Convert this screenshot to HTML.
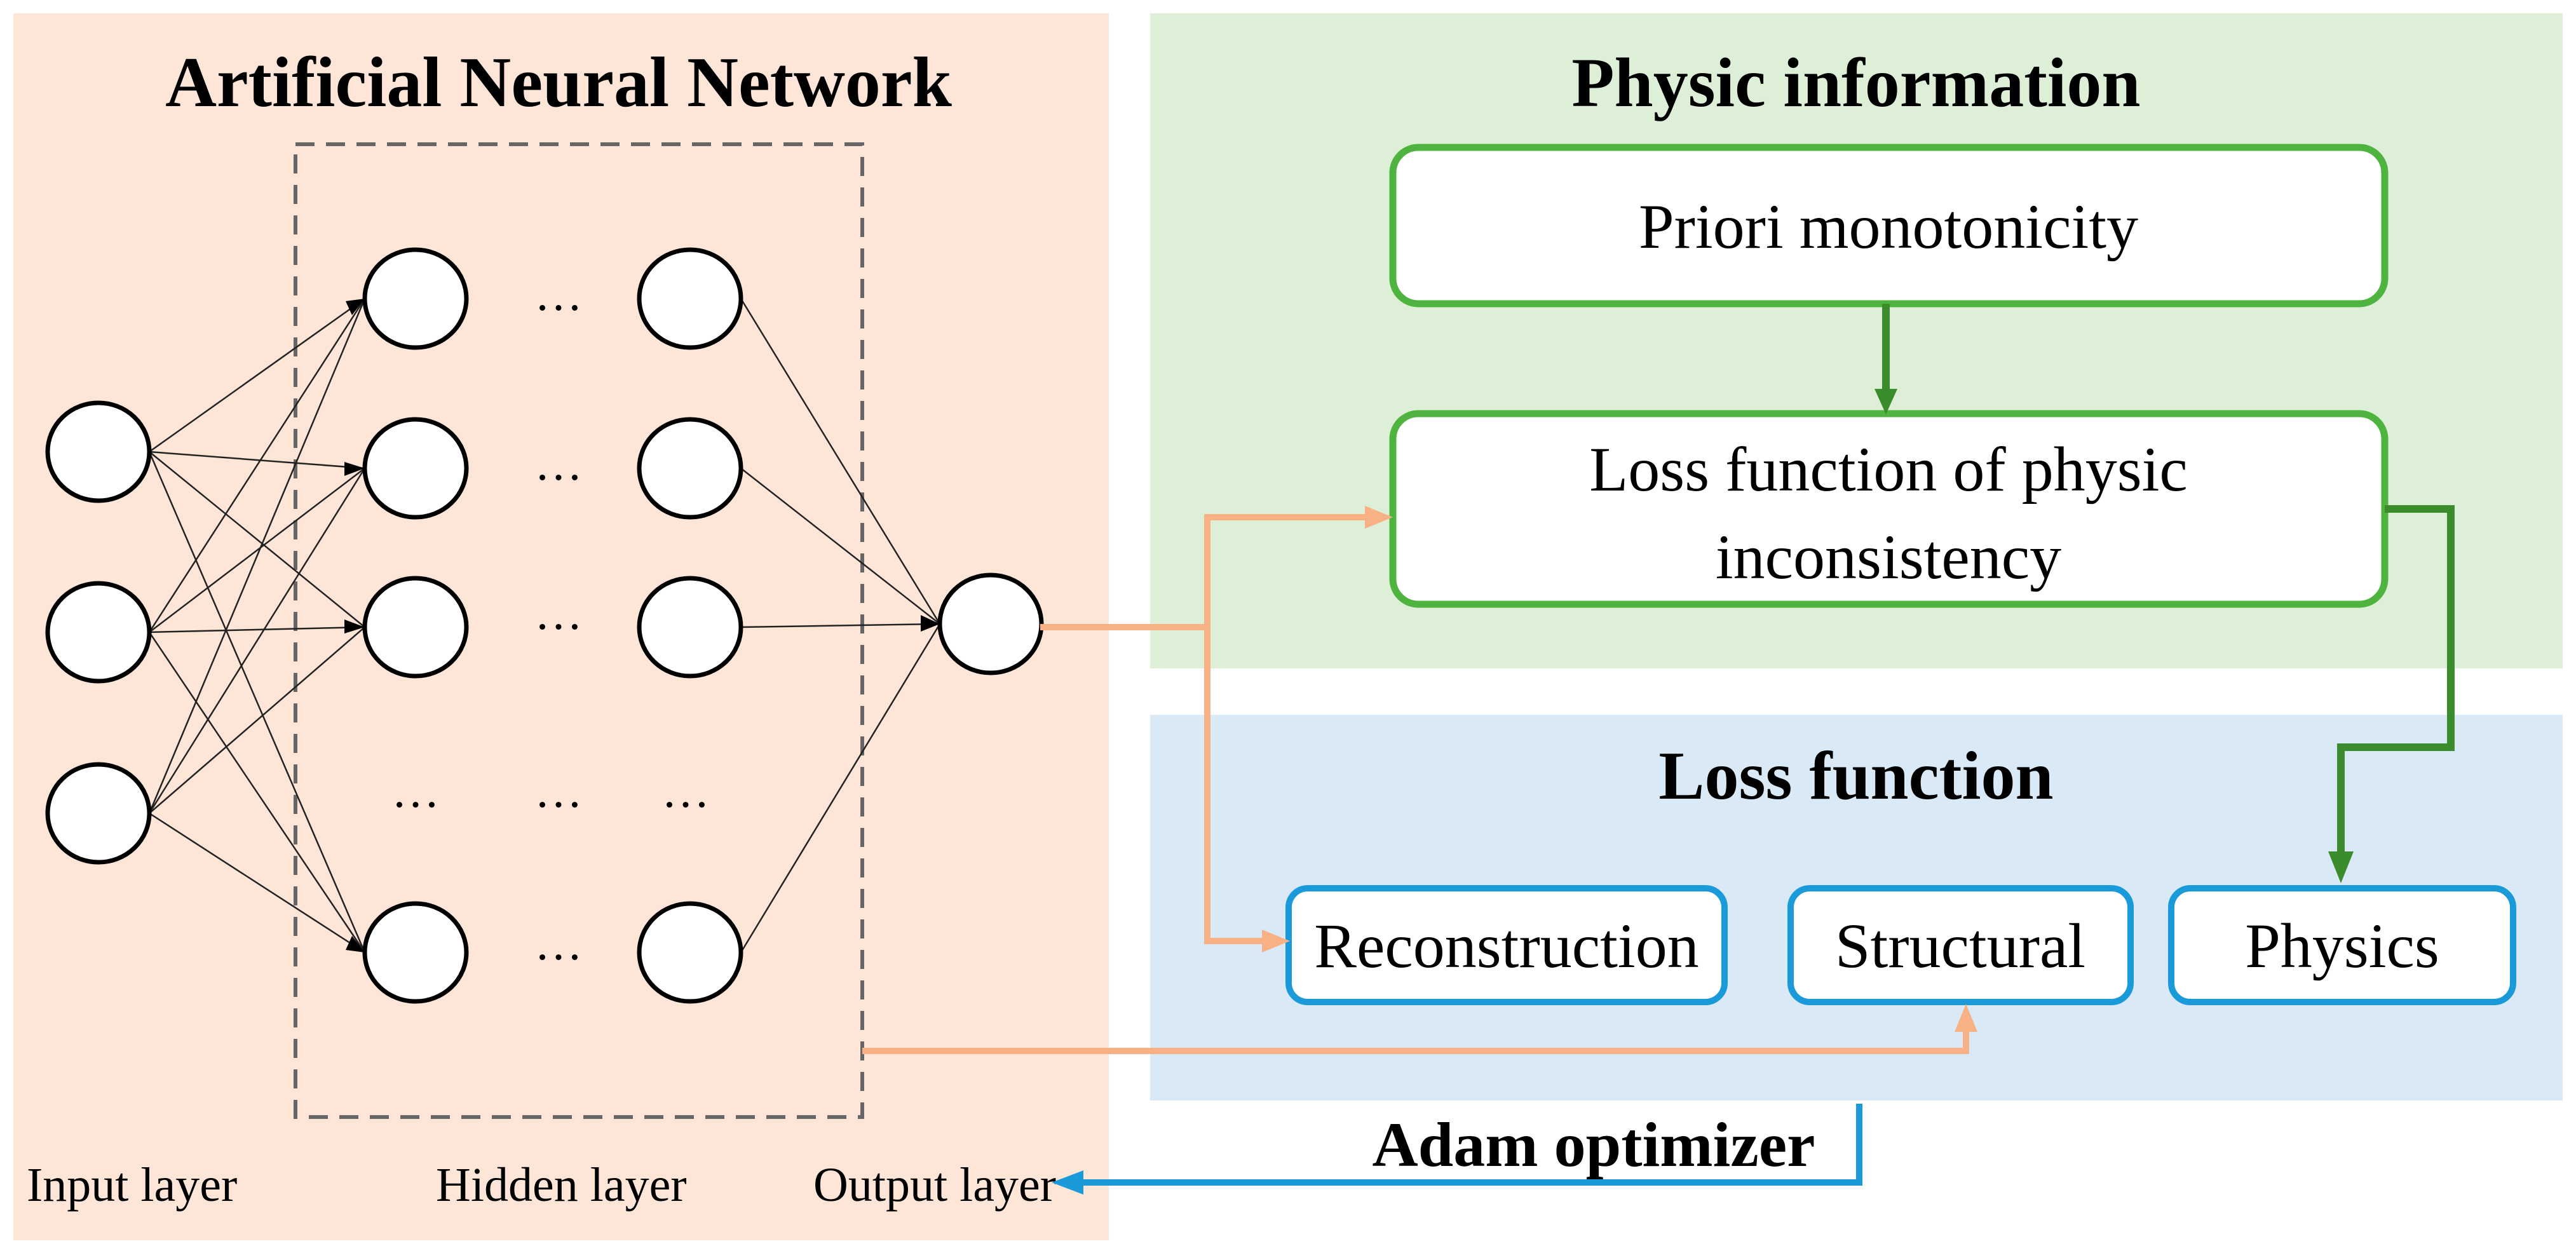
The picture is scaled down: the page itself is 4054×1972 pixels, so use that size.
<!DOCTYPE html>
<html><head><meta charset="utf-8"><style>html,body{margin:0;padding:0;background:#fff}svg{display:block}</style></head>
<body>
<svg width="4054" height="1972" viewBox="0 0 4054 1972" xmlns="http://www.w3.org/2000/svg" font-family="'Liberation Serif', serif">
<rect x="21" y="21" width="1724" height="1931" fill="#fde5d7"/>
<rect x="1810" y="21" width="2223" height="1031" fill="#deefd8"/>
<rect x="1810" y="1125" width="2223" height="607" fill="#dae9f6"/>
<text x="879" y="167" font-size="112" font-weight="bold" text-anchor="middle">Artificial Neural Network</text>
<rect x="465" y="227" width="892" height="1531" fill="none" stroke="#666" stroke-width="6" stroke-dasharray="30,18"/>
<g stroke="#222" stroke-width="2.5" fill="none">
<line x1="235" y1="711" x2="574" y2="470"/><line x1="235" y1="711" x2="574" y2="737"/><line x1="235" y1="711" x2="574" y2="987"/><line x1="235" y1="711" x2="574" y2="1499"/>
<line x1="235" y1="995" x2="574" y2="470"/><line x1="235" y1="995" x2="574" y2="737"/><line x1="235" y1="995" x2="574" y2="987"/><line x1="235" y1="995" x2="574" y2="1499"/>
<line x1="235" y1="1280" x2="574" y2="470"/><line x1="235" y1="1280" x2="574" y2="737"/><line x1="235" y1="1280" x2="574" y2="987"/><line x1="235" y1="1280" x2="574" y2="1499"/>
<line x1="1166" y1="470" x2="1479" y2="982"/><line x1="1166" y1="737" x2="1479" y2="982"/><line x1="1166" y1="987" x2="1479" y2="982"/><line x1="1166" y1="1499" x2="1479" y2="982"/>
</g>
<g fill="#000">
<path d="M574,470 l-30,4 l10,22z"/><path d="M574,737 l-32,-10 l0,22z"/><path d="M574,987 l-32,-12 l0,22z"/><path d="M574,1499 l-30,-4 l10,-22z"/>
<path d="M1479,982 l-30,-14 l0,26z"/>
</g>
<g fill="#fff" stroke="#000" stroke-width="7">
<ellipse cx="155" cy="711" rx="80" ry="77"/><ellipse cx="155" cy="995" rx="80" ry="77"/><ellipse cx="155" cy="1280" rx="80" ry="77"/>
<ellipse cx="654" cy="470" rx="80" ry="77"/><ellipse cx="654" cy="737" rx="80" ry="77"/><ellipse cx="654" cy="987" rx="80" ry="77"/><ellipse cx="654" cy="1499" rx="80" ry="77"/>
<ellipse cx="1086" cy="470" rx="80" ry="77"/><ellipse cx="1086" cy="737" rx="80" ry="77"/><ellipse cx="1086" cy="987" rx="80" ry="77"/><ellipse cx="1086" cy="1499" rx="80" ry="77"/>
<ellipse cx="1559" cy="982" rx="80" ry="77"/>
</g>
<g font-size="76" text-anchor="middle">
<text x="879" y="488">…</text><text x="879" y="755">…</text><text x="879" y="990">…</text><text x="879" y="1510">…</text>
<text x="654" y="1270">…</text><text x="879" y="1270">…</text><text x="1079" y="1270">…</text>
</g>
<g font-size="76">
<text x="42" y="1890">Input layer</text><text x="686" y="1890">Hidden layer</text><text x="1280" y="1890">Output layer</text>
</g>
<text x="2921" y="167" font-size="110" font-weight="bold" text-anchor="middle">Physic information</text>
<rect x="2192" y="232" width="1561" height="246" rx="40" fill="#fff" stroke="#4fb43f" stroke-width="11"/>
<text x="2972" y="390" font-size="100" text-anchor="middle">Priori monotonicity</text>
<rect x="2192" y="651" width="1561" height="300" rx="40" fill="#fff" stroke="#4fb43f" stroke-width="11"/>
<text x="2972" y="772" font-size="100" text-anchor="middle">Loss function of physic</text>
<text x="2972" y="910" font-size="100" text-anchor="middle">inconsistency</text>
<g stroke="#3a8c2c" stroke-width="12" fill="none">
<line x1="2968" y1="478" x2="2968" y2="615"/>
<polyline points="3753,801 3857,801 3857,1176 3684,1176 3684,1345"/>
</g>
<path d="M2950,612 h36 l-18,40z" fill="#3a8c2c"/>
<path d="M3664,1340 h40 l-20,50z" fill="#3a8c2c"/>
<text x="2921" y="1257" font-size="108" font-weight="bold" text-anchor="middle">Loss function</text>
<g fill="#fff" stroke="#1a9ad8" stroke-width="10">
<rect x="2028" y="1398" width="686" height="179" rx="30"/>
<rect x="2818" y="1398" width="535" height="179" rx="30"/>
<rect x="3417" y="1398" width="538" height="179" rx="30"/>
</g>
<g font-size="100" text-anchor="middle">
<text x="2371" y="1522">Reconstruction</text><text x="3085" y="1522">Structural</text><text x="3686" y="1522">Physics</text>
</g>
<g stroke="#f8b185" stroke-width="10" fill="none">
<polyline points="1637,987 1900,987"/>
<polyline points="2150,814 1900,814 1900,1481 1990,1481"/>
<polyline points="1357,1654 3094,1654 3094,1620"/>
</g>
<g fill="#f8b185">
<path d="M2148,796 v36 l44,-18z"/><path d="M1986,1463 v36 l44,-18z"/><path d="M3076,1624 h36 l-18,-44z"/>
</g>
<polyline points="2926,1737 2926,1861 1700,1861" stroke="#1a9ad8" stroke-width="10" fill="none"/>
<path d="M1705,1842 v38 l-50,-19z" fill="#1a9ad8"/>
<text x="2508" y="1835" font-size="100" font-weight="bold" text-anchor="middle">Adam optimizer</text>
</svg>
</body></html>
